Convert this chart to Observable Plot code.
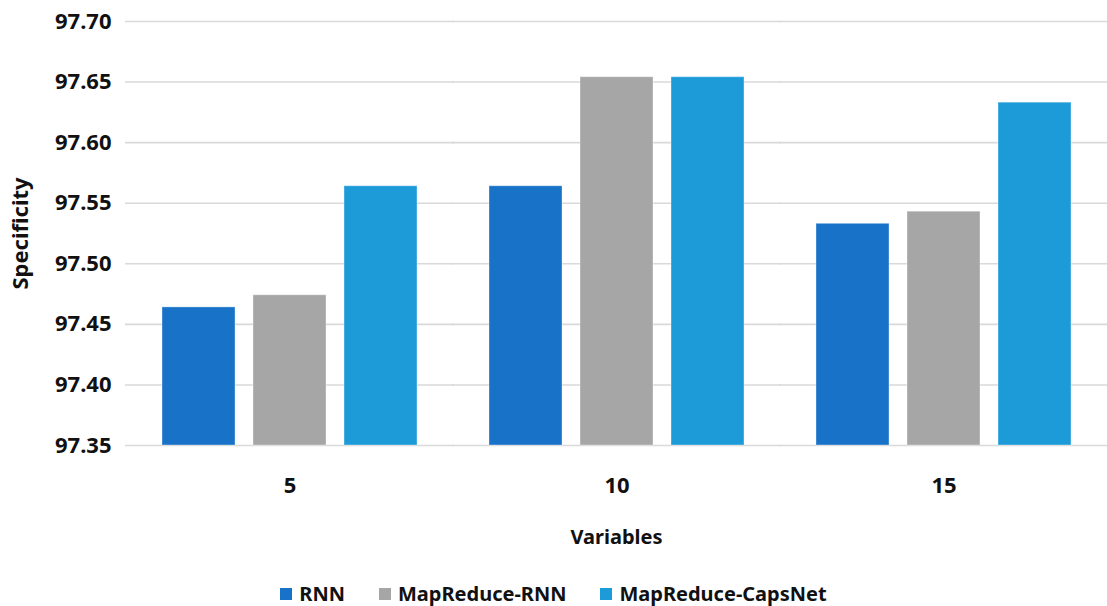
<!DOCTYPE html>
<html>
<head>
<meta charset="utf-8">
<script src="https://cdn.jsdelivr.net/npm/d3@7"></script>
<script src="https://cdn.jsdelivr.net/npm/@observablehq/plot@0.6"></script>
<style>
  body { margin: 0; background: #fff; font-family: "Noto Sans", sans-serif; }
  #wrap { position: relative; width: 1107px; height: 606px; overflow: hidden; }
  #xlabel { position: absolute; left: 126px; width: 981px; top: 524px; text-align: center;
            font-size: 20px; font-weight: 700; line-height: 26px; color: #111; }
  #legend { position: absolute; left: 0; width: 1107px; top: 583px; display: flex;
            justify-content: center; gap: 34px; font-size: 20px; font-weight: 700;
            line-height: 22px; color: #111; }
  #legend .item { display: flex; align-items: center; }
  #legend .sw { display: inline-block; width: 12px; height: 12px; margin-right: 7px; }
</style>
</head>
<body>
<div id="wrap">
  <div id="chart"></div>
  <div id="xlabel">Variables</div>
  <div id="legend"></div>
</div>
<script>
// Number of variables (groups along the x axis)
const variables = ["5", "10", "15"];
// Models compared within each group
const models = ["RNN", "MapReduce-RNN", "MapReduce-CapsNet"];
// Specificity per model, one value per group
const rnn = [97.464, 97.564, 97.533];
const mapReduceRnn = [97.474, 97.654, 97.543];
const mapReduceCapsNet = [97.564, 97.654, 97.633];
// Value axis
const yMin = 97.35;
const yMax = 97.70;
const yTicks = [97.35, 97.40, 97.45, 97.50, 97.55, 97.60, 97.65, 97.70];
const colors = ["#1772c8", "#a6a6a6", "#1d9bd8"];

const seriesValues = [rnn, mapReduceRnn, mapReduceCapsNet];
const rows = variables.flatMap((v, i) =>
  models.map((m, j) => ({variables: v, model: m, value: seriesValues[j][i]}))
);

// Group band layout; grid rules reach across the gaps between groups,
// and the y axis (drawn in the first group) is pushed back past the outer gap
const plotWidth = 1107, marginLeft = 126, marginRight = 0;
const fxInner = 0.22, fxOuter = 0.11;
const fxStep = (plotWidth - marginLeft - marginRight) / (variables.length - fxInner + 2 * fxOuter);
const outerGap = fxStep * fxOuter;
const gridReach = -Math.ceil(outerGap) - 1;

const chart = Plot.plot({
  width: plotWidth,
  height: 500,
  marginTop: 21,
  marginBottom: 55,
  marginLeft,
  marginRight,
  style: {fontFamily: "Noto Sans, sans-serif", color: "#111", background: "#fff"},
  fx: {domain: variables, paddingInner: fxInner, paddingOuter: fxOuter, label: null},
  x: {domain: models, paddingInner: 0.2, paddingOuter: 0, axis: null},
  y: {domain: [yMin, yMax], label: null},
  color: {domain: models, range: colors},
  marks: [
    Plot.ruleY(yTicks, {stroke: "#d9d9d9", strokeWidth: 1.6, insetLeft: gridReach, insetRight: gridReach}),
    Plot.barY(rows, {
      fx: "variables", x: "model", y1: yMin, y2: "value", fill: "model",
      stroke: "#ffffff", strokeOpacity: 0.35, strokeWidth: 1
    }),
    Plot.axisY({
      ticks: yTicks, tickFormat: ".2f", tickSize: 0, tickPadding: 15 + outerGap,
      fontSize: 22, fontWeight: 700,
      label: "Specificity", labelAnchor: "center", labelArrow: "none", labelOffset: 150
    }),
    Plot.axisFx({
      anchor: "bottom", tickSize: 0, tickPadding: 32, fontSize: 22, fontWeight: 700, label: null
    })
  ]
});
document.getElementById("chart").appendChild(chart);

// Legend row
const legend = document.getElementById("legend");
models.forEach((m, i) => {
  const item = document.createElement("div");
  item.className = "item";
  const sw = document.createElement("span");
  sw.className = "sw";
  sw.style.background = colors[i];
  item.appendChild(sw);
  item.appendChild(document.createTextNode(m));
  legend.appendChild(item);
});
</script>
</body>
</html>
